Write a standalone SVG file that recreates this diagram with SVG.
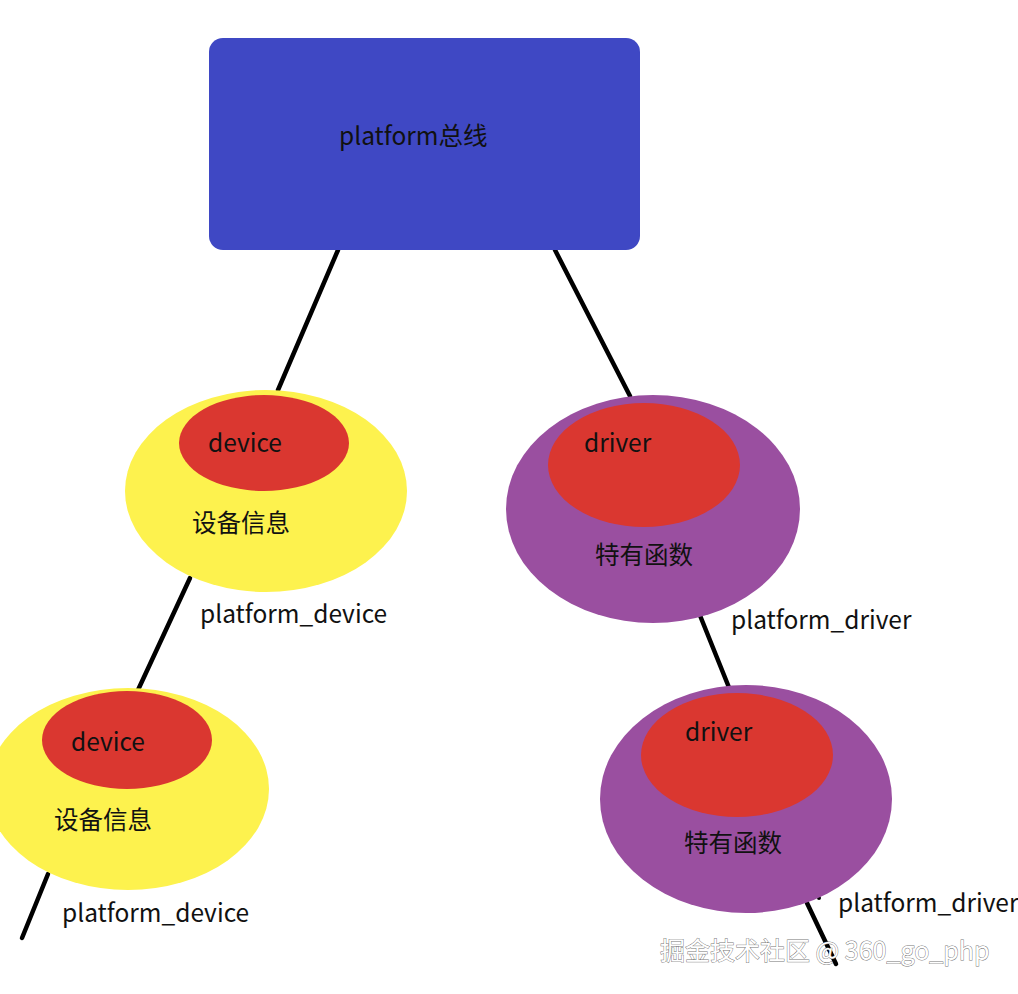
<svg xmlns="http://www.w3.org/2000/svg" width="1018" height="994" viewBox="0 0 1018 994">
<style>
text{font-family:"Noto Sans CJK SC","Noto Sans","Liberation Sans",sans-serif;font-size:24.5px;fill:#111}
.ln{stroke:#000;stroke-width:4.5;stroke-linecap:round}
.yel{fill:#fdf24e}
.pur{fill:#9a4fa0}
.red{fill:#da3730}
.wm{fill:#fff;stroke:#777;stroke-width:0.9;paint-order:stroke;font-size:25px}
</style>
<rect width="1018" height="994" fill="#fff"/>
<g id="connectors">
<line class="ln" x1="338" y1="250" x2="278" y2="390"/>
<line class="ln" x1="555" y1="250" x2="630" y2="396"/>
<line class="ln" x1="190" y1="578" x2="138" y2="690"/>
<line class="ln" x1="697" y1="608" x2="730" y2="690"/>
<line class="ln" x1="48" y1="874" x2="22" y2="938"/>
<line class="ln" x1="807" y1="903" x2="836" y2="964"/>
<circle cx="819" cy="898" r="2" fill="#000"/>
</g>
<g id="bus">
<rect x="209" y="38" width="431" height="212" rx="14" fill="#3f48c4"/>
<text x="339" y="145">platform总线</text>
</g>
<g id="device1">
<ellipse class="yel" cx="266" cy="491" rx="141" ry="101"/>
<ellipse class="red" cx="264" cy="443" rx="85" ry="48"/>
<text x="208" y="452">device</text>
<text x="192" y="532">设备信息</text>
</g>
<g id="device2">
<ellipse class="yel" cx="128" cy="789" rx="141" ry="101"/>
<ellipse class="red" cx="127" cy="740" rx="85" ry="49"/>
<text x="71" y="751">device</text>
<text x="54" y="829">设备信息</text>
</g>
<g id="driver1">
<ellipse class="pur" cx="653" cy="509" rx="147" ry="114"/>
<ellipse class="red" cx="644" cy="465" rx="96" ry="62"/>
<text x="584" y="452">driver</text>
<text x="595" y="564">特有函数</text>
</g>
<g id="driver2">
<ellipse class="pur" cx="746" cy="799" rx="146" ry="114"/>
<ellipse class="red" cx="737" cy="755" rx="96" ry="62"/>
<text x="685" y="741">driver</text>
<text x="684" y="852">特有函数</text>
</g>
<g id="labels">
<text x="200" y="623">platform_device</text>
<text x="62" y="922">platform_device</text>
<text x="731" y="629">platform_driver</text>
<text x="838" y="912">platform_driver</text>
<text class="wm" x="660" y="960">掘金技术社区 @ 360_go_php</text>
</g>
</svg>
